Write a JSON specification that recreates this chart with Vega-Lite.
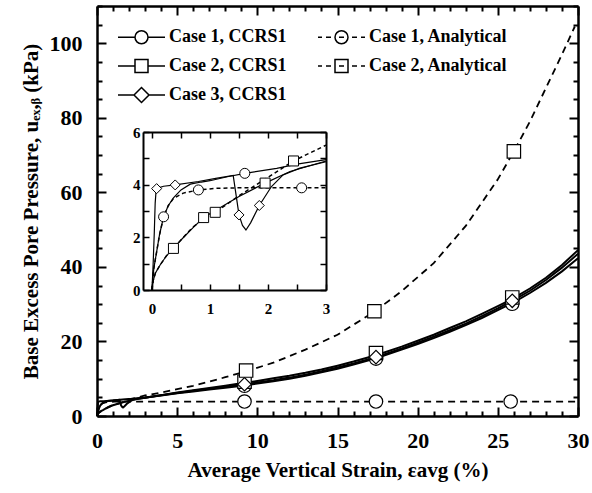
{
  "$schema": "https://vega.github.io/schema/vega-lite/v6.json",
  "width": 481,
  "height": 410,
  "autosize": "none",
  "padding": {"left": 97, "top": 6, "right": 14, "bottom": 77},
  "background": "white",
  "config": {
    "view": {"stroke": null},
    "font": "Liberation Serif",
    "axis": {
      "labelFont": "Liberation Serif",
      "labelFontWeight": "bold",
      "labelColor": "black",
      "titleFont": "Liberation Serif",
      "titleFontWeight": "bold",
      "titleColor": "black",
      "domainColor": "black",
      "tickColor": "black",
      "grid": false,
      "labelOverlap": false,
      "labelFlush": false
    },
    "legend": {
      "labelFont": "Liberation Serif",
      "labelFontWeight": "bold",
      "labelFontSize": 18,
      "labelColor": "black",
      "labelLimit": 300
    }
  },
  "datasets": {
    "curves": [
      {"s": "Case 1, CCRS1", "m": "CCRS1", "x": 0, "y": 0},
      {"s": "Case 1, CCRS1", "m": "CCRS1", "x": 0.03, "y": 0.8},
      {"s": "Case 1, CCRS1", "m": "CCRS1", "x": 0.08, "y": 1.45},
      {"s": "Case 1, CCRS1", "m": "CCRS1", "x": 0.13, "y": 2.1},
      {"s": "Case 1, CCRS1", "m": "CCRS1", "x": 0.2, "y": 2.78},
      {"s": "Case 1, CCRS1", "m": "CCRS1", "x": 0.28, "y": 3.2},
      {"s": "Case 1, CCRS1", "m": "CCRS1", "x": 0.37, "y": 3.5},
      {"s": "Case 1, CCRS1", "m": "CCRS1", "x": 0.5, "y": 3.8},
      {"s": "Case 1, CCRS1", "m": "CCRS1", "x": 0.66, "y": 4.02},
      {"s": "Case 1, CCRS1", "m": "CCRS1", "x": 0.85, "y": 4.1},
      {"s": "Case 1, CCRS1", "m": "CCRS1", "x": 1.0, "y": 4.15},
      {"s": "Case 1, CCRS1", "m": "CCRS1", "x": 1.3, "y": 4.3},
      {"s": "Case 1, CCRS1", "m": "CCRS1", "x": 1.6, "y": 4.43},
      {"s": "Case 1, CCRS1", "m": "CCRS1", "x": 2.15, "y": 4.62},
      {"s": "Case 1, CCRS1", "m": "CCRS1", "x": 2.5, "y": 4.78},
      {"s": "Case 1, CCRS1", "m": "CCRS1", "x": 3, "y": 4.95},
      {"s": "Case 1, CCRS1", "m": "CCRS1", "x": 4, "y": 5.5},
      {"s": "Case 1, CCRS1", "m": "CCRS1", "x": 5, "y": 6.1},
      {"s": "Case 1, CCRS1", "m": "CCRS1", "x": 6, "y": 6.6},
      {"s": "Case 1, CCRS1", "m": "CCRS1", "x": 7, "y": 7.1},
      {"s": "Case 1, CCRS1", "m": "CCRS1", "x": 8, "y": 7.6},
      {"s": "Case 1, CCRS1", "m": "CCRS1", "x": 9.2, "y": 8.2},
      {"s": "Case 1, CCRS1", "m": "CCRS1", "x": 10, "y": 8.7},
      {"s": "Case 1, CCRS1", "m": "CCRS1", "x": 11, "y": 9.3},
      {"s": "Case 1, CCRS1", "m": "CCRS1", "x": 12, "y": 10.0},
      {"s": "Case 1, CCRS1", "m": "CCRS1", "x": 13, "y": 10.8},
      {"s": "Case 1, CCRS1", "m": "CCRS1", "x": 14, "y": 11.7},
      {"s": "Case 1, CCRS1", "m": "CCRS1", "x": 15, "y": 12.7},
      {"s": "Case 1, CCRS1", "m": "CCRS1", "x": 16, "y": 13.8},
      {"s": "Case 1, CCRS1", "m": "CCRS1", "x": 17.4, "y": 15.5},
      {"s": "Case 1, CCRS1", "m": "CCRS1", "x": 19, "y": 17.8},
      {"s": "Case 1, CCRS1", "m": "CCRS1", "x": 20, "y": 19.3},
      {"s": "Case 1, CCRS1", "m": "CCRS1", "x": 21, "y": 20.9},
      {"s": "Case 1, CCRS1", "m": "CCRS1", "x": 22, "y": 22.6},
      {"s": "Case 1, CCRS1", "m": "CCRS1", "x": 23, "y": 24.4},
      {"s": "Case 1, CCRS1", "m": "CCRS1", "x": 24, "y": 26.3},
      {"s": "Case 1, CCRS1", "m": "CCRS1", "x": 25, "y": 28.4},
      {"s": "Case 1, CCRS1", "m": "CCRS1", "x": 25.9, "y": 30.3},
      {"s": "Case 1, CCRS1", "m": "CCRS1", "x": 27, "y": 33.0},
      {"s": "Case 1, CCRS1", "m": "CCRS1", "x": 28, "y": 35.7},
      {"s": "Case 1, CCRS1", "m": "CCRS1", "x": 29, "y": 38.8},
      {"s": "Case 1, CCRS1", "m": "CCRS1", "x": 30, "y": 42.3},

      {"s": "Case 2, CCRS1", "m": "CCRS1", "x": 0, "y": 0},
      {"s": "Case 2, CCRS1", "m": "CCRS1", "x": 0.02, "y": 0.35},
      {"s": "Case 2, CCRS1", "m": "CCRS1", "x": 0.06, "y": 0.65},
      {"s": "Case 2, CCRS1", "m": "CCRS1", "x": 0.14, "y": 0.95},
      {"s": "Case 2, CCRS1", "m": "CCRS1", "x": 0.25, "y": 1.3},
      {"s": "Case 2, CCRS1", "m": "CCRS1", "x": 0.37, "y": 1.58},
      {"s": "Case 2, CCRS1", "m": "CCRS1", "x": 0.5, "y": 1.9},
      {"s": "Case 2, CCRS1", "m": "CCRS1", "x": 0.7, "y": 2.35},
      {"s": "Case 2, CCRS1", "m": "CCRS1", "x": 0.89, "y": 2.75},
      {"s": "Case 2, CCRS1", "m": "CCRS1", "x": 1.1, "y": 3.03},
      {"s": "Case 2, CCRS1", "m": "CCRS1", "x": 1.5, "y": 3.55},
      {"s": "Case 2, CCRS1", "m": "CCRS1", "x": 1.95, "y": 4.06},
      {"s": "Case 2, CCRS1", "m": "CCRS1", "x": 2.38, "y": 4.5},
      {"s": "Case 2, CCRS1", "m": "CCRS1", "x": 3, "y": 4.9},
      {"s": "Case 2, CCRS1", "m": "CCRS1", "x": 4, "y": 5.6},
      {"s": "Case 2, CCRS1", "m": "CCRS1", "x": 5, "y": 6.3},
      {"s": "Case 2, CCRS1", "m": "CCRS1", "x": 6, "y": 6.9},
      {"s": "Case 2, CCRS1", "m": "CCRS1", "x": 7, "y": 7.5},
      {"s": "Case 2, CCRS1", "m": "CCRS1", "x": 8, "y": 8.1},
      {"s": "Case 2, CCRS1", "m": "CCRS1", "x": 9.2, "y": 8.9},
      {"s": "Case 2, CCRS1", "m": "CCRS1", "x": 10, "y": 9.4},
      {"s": "Case 2, CCRS1", "m": "CCRS1", "x": 11, "y": 10.1},
      {"s": "Case 2, CCRS1", "m": "CCRS1", "x": 12, "y": 10.8},
      {"s": "Case 2, CCRS1", "m": "CCRS1", "x": 13, "y": 11.6},
      {"s": "Case 2, CCRS1", "m": "CCRS1", "x": 14, "y": 12.5},
      {"s": "Case 2, CCRS1", "m": "CCRS1", "x": 15, "y": 13.5},
      {"s": "Case 2, CCRS1", "m": "CCRS1", "x": 16, "y": 14.6},
      {"s": "Case 2, CCRS1", "m": "CCRS1", "x": 17.4, "y": 16.3},
      {"s": "Case 2, CCRS1", "m": "CCRS1", "x": 19, "y": 18.6},
      {"s": "Case 2, CCRS1", "m": "CCRS1", "x": 20, "y": 20.2},
      {"s": "Case 2, CCRS1", "m": "CCRS1", "x": 21, "y": 21.8},
      {"s": "Case 2, CCRS1", "m": "CCRS1", "x": 22, "y": 23.6},
      {"s": "Case 2, CCRS1", "m": "CCRS1", "x": 23, "y": 25.4},
      {"s": "Case 2, CCRS1", "m": "CCRS1", "x": 24, "y": 27.4},
      {"s": "Case 2, CCRS1", "m": "CCRS1", "x": 25, "y": 29.5},
      {"s": "Case 2, CCRS1", "m": "CCRS1", "x": 25.9, "y": 31.4},
      {"s": "Case 2, CCRS1", "m": "CCRS1", "x": 27, "y": 34.2},
      {"s": "Case 2, CCRS1", "m": "CCRS1", "x": 28, "y": 37.1},
      {"s": "Case 2, CCRS1", "m": "CCRS1", "x": 29, "y": 40.5},
      {"s": "Case 2, CCRS1", "m": "CCRS1", "x": 30, "y": 44.5},

      {"s": "Case 3, CCRS1", "m": "CCRS1", "x": 0, "y": 0},
      {"s": "Case 3, CCRS1", "m": "CCRS1", "x": 0.02, "y": 1.0},
      {"s": "Case 3, CCRS1", "m": "CCRS1", "x": 0.04, "y": 2.2},
      {"s": "Case 3, CCRS1", "m": "CCRS1", "x": 0.055, "y": 3.3},
      {"s": "Case 3, CCRS1", "m": "CCRS1", "x": 0.07, "y": 3.75},
      {"s": "Case 3, CCRS1", "m": "CCRS1", "x": 0.1, "y": 3.87},
      {"s": "Case 3, CCRS1", "m": "CCRS1", "x": 0.2, "y": 3.94},
      {"s": "Case 3, CCRS1", "m": "CCRS1", "x": 0.4, "y": 3.99},
      {"s": "Case 3, CCRS1", "m": "CCRS1", "x": 0.8, "y": 4.12},
      {"s": "Case 3, CCRS1", "m": "CCRS1", "x": 1.1, "y": 4.24},
      {"s": "Case 3, CCRS1", "m": "CCRS1", "x": 1.4, "y": 4.35},
      {"s": "Case 3, CCRS1", "m": "CCRS1", "x": 1.45, "y": 3.6},
      {"s": "Case 3, CCRS1", "m": "CCRS1", "x": 1.5, "y": 2.85},
      {"s": "Case 3, CCRS1", "m": "CCRS1", "x": 1.56, "y": 2.45},
      {"s": "Case 3, CCRS1", "m": "CCRS1", "x": 1.62, "y": 2.28},
      {"s": "Case 3, CCRS1", "m": "CCRS1", "x": 1.7, "y": 2.55},
      {"s": "Case 3, CCRS1", "m": "CCRS1", "x": 1.85, "y": 3.21},
      {"s": "Case 3, CCRS1", "m": "CCRS1", "x": 2.06, "y": 3.93},
      {"s": "Case 3, CCRS1", "m": "CCRS1", "x": 2.26, "y": 4.37},
      {"s": "Case 3, CCRS1", "m": "CCRS1", "x": 2.55, "y": 4.63},
      {"s": "Case 3, CCRS1", "m": "CCRS1", "x": 3, "y": 4.87},
      {"s": "Case 3, CCRS1", "m": "CCRS1", "x": 4, "y": 5.55},
      {"s": "Case 3, CCRS1", "m": "CCRS1", "x": 5, "y": 6.2},
      {"s": "Case 3, CCRS1", "m": "CCRS1", "x": 6, "y": 6.75},
      {"s": "Case 3, CCRS1", "m": "CCRS1", "x": 7, "y": 7.3},
      {"s": "Case 3, CCRS1", "m": "CCRS1", "x": 8, "y": 7.85},
      {"s": "Case 3, CCRS1", "m": "CCRS1", "x": 9.2, "y": 8.5},
      {"s": "Case 3, CCRS1", "m": "CCRS1", "x": 10, "y": 9.0},
      {"s": "Case 3, CCRS1", "m": "CCRS1", "x": 11, "y": 9.6},
      {"s": "Case 3, CCRS1", "m": "CCRS1", "x": 12, "y": 10.3},
      {"s": "Case 3, CCRS1", "m": "CCRS1", "x": 13, "y": 11.1},
      {"s": "Case 3, CCRS1", "m": "CCRS1", "x": 14, "y": 12.0},
      {"s": "Case 3, CCRS1", "m": "CCRS1", "x": 15, "y": 13.0},
      {"s": "Case 3, CCRS1", "m": "CCRS1", "x": 16, "y": 14.1},
      {"s": "Case 3, CCRS1", "m": "CCRS1", "x": 17.4, "y": 15.8},
      {"s": "Case 3, CCRS1", "m": "CCRS1", "x": 19, "y": 18.1},
      {"s": "Case 3, CCRS1", "m": "CCRS1", "x": 20, "y": 19.7},
      {"s": "Case 3, CCRS1", "m": "CCRS1", "x": 21, "y": 21.3},
      {"s": "Case 3, CCRS1", "m": "CCRS1", "x": 22, "y": 23.0},
      {"s": "Case 3, CCRS1", "m": "CCRS1", "x": 23, "y": 24.8},
      {"s": "Case 3, CCRS1", "m": "CCRS1", "x": 24, "y": 26.8},
      {"s": "Case 3, CCRS1", "m": "CCRS1", "x": 25, "y": 28.9},
      {"s": "Case 3, CCRS1", "m": "CCRS1", "x": 25.9, "y": 30.9},
      {"s": "Case 3, CCRS1", "m": "CCRS1", "x": 27, "y": 33.6},
      {"s": "Case 3, CCRS1", "m": "CCRS1", "x": 28, "y": 36.5},
      {"s": "Case 3, CCRS1", "m": "CCRS1", "x": 29, "y": 39.8},
      {"s": "Case 3, CCRS1", "m": "CCRS1", "x": 30, "y": 43.5},

      {"s": "Case 1, Analytical", "m": "Analytical", "x": 0, "y": 0},
      {"s": "Case 1, Analytical", "m": "Analytical", "x": 0.03, "y": 0.8},
      {"s": "Case 1, Analytical", "m": "Analytical", "x": 0.08, "y": 1.45},
      {"s": "Case 1, Analytical", "m": "Analytical", "x": 0.13, "y": 2.1},
      {"s": "Case 1, Analytical", "m": "Analytical", "x": 0.2, "y": 2.78},
      {"s": "Case 1, Analytical", "m": "Analytical", "x": 0.28, "y": 3.2},
      {"s": "Case 1, Analytical", "m": "Analytical", "x": 0.37, "y": 3.48},
      {"s": "Case 1, Analytical", "m": "Analytical", "x": 0.54, "y": 3.68},
      {"s": "Case 1, Analytical", "m": "Analytical", "x": 0.8, "y": 3.8},
      {"s": "Case 1, Analytical", "m": "Analytical", "x": 1.1, "y": 3.86},
      {"s": "Case 1, Analytical", "m": "Analytical", "x": 1.5, "y": 3.88},
      {"s": "Case 1, Analytical", "m": "Analytical", "x": 3, "y": 3.88},
      {"s": "Case 1, Analytical", "m": "Analytical", "x": 10, "y": 3.88},
      {"s": "Case 1, Analytical", "m": "Analytical", "x": 20, "y": 3.88},
      {"s": "Case 1, Analytical", "m": "Analytical", "x": 30, "y": 3.88},

      {"s": "Case 2, Analytical", "m": "Analytical", "x": 0, "y": 0},
      {"s": "Case 2, Analytical", "m": "Analytical", "x": 0.02, "y": 0.35},
      {"s": "Case 2, Analytical", "m": "Analytical", "x": 0.06, "y": 0.65},
      {"s": "Case 2, Analytical", "m": "Analytical", "x": 0.14, "y": 0.95},
      {"s": "Case 2, Analytical", "m": "Analytical", "x": 0.25, "y": 1.3},
      {"s": "Case 2, Analytical", "m": "Analytical", "x": 0.37, "y": 1.58},
      {"s": "Case 2, Analytical", "m": "Analytical", "x": 0.5, "y": 1.9},
      {"s": "Case 2, Analytical", "m": "Analytical", "x": 0.7, "y": 2.38},
      {"s": "Case 2, Analytical", "m": "Analytical", "x": 0.9, "y": 2.72},
      {"s": "Case 2, Analytical", "m": "Analytical", "x": 1.09, "y": 2.95},
      {"s": "Case 2, Analytical", "m": "Analytical", "x": 1.5, "y": 3.58},
      {"s": "Case 2, Analytical", "m": "Analytical", "x": 2.0, "y": 4.28},
      {"s": "Case 2, Analytical", "m": "Analytical", "x": 2.44, "y": 4.9},
      {"s": "Case 2, Analytical", "m": "Analytical", "x": 3, "y": 5.5},
      {"s": "Case 2, Analytical", "m": "Analytical", "x": 4, "y": 6.3},
      {"s": "Case 2, Analytical", "m": "Analytical", "x": 5, "y": 7.2},
      {"s": "Case 2, Analytical", "m": "Analytical", "x": 6, "y": 8.1},
      {"s": "Case 2, Analytical", "m": "Analytical", "x": 7, "y": 9.2},
      {"s": "Case 2, Analytical", "m": "Analytical", "x": 8, "y": 10.4},
      {"s": "Case 2, Analytical", "m": "Analytical", "x": 9.3, "y": 12.0},
      {"s": "Case 2, Analytical", "m": "Analytical", "x": 11, "y": 14.3},
      {"s": "Case 2, Analytical", "m": "Analytical", "x": 13, "y": 17.8},
      {"s": "Case 2, Analytical", "m": "Analytical", "x": 15, "y": 21.8},
      {"s": "Case 2, Analytical", "m": "Analytical", "x": 17.3, "y": 28.0},
      {"s": "Case 2, Analytical", "m": "Analytical", "x": 19, "y": 33.5},
      {"s": "Case 2, Analytical", "m": "Analytical", "x": 21, "y": 41.0},
      {"s": "Case 2, Analytical", "m": "Analytical", "x": 23, "y": 51.0},
      {"s": "Case 2, Analytical", "m": "Analytical", "x": 25, "y": 63.5},
      {"s": "Case 2, Analytical", "m": "Analytical", "x": 26, "y": 71.0},
      {"s": "Case 2, Analytical", "m": "Analytical", "x": 27, "y": 79.0},
      {"s": "Case 2, Analytical", "m": "Analytical", "x": 28, "y": 88.0},
      {"s": "Case 2, Analytical", "m": "Analytical", "x": 29, "y": 97.0},
      {"s": "Case 2, Analytical", "m": "Analytical", "x": 29.8, "y": 104.5}
    ],
    "pts": [
      {"s": "Case 1, CCRS1", "x": 0.2, "y": 2.78},
      {"s": "Case 1, CCRS1", "x": 1.6, "y": 4.43},
      {"s": "Case 1, CCRS1", "x": 9.2, "y": 8.1},
      {"s": "Case 1, CCRS1", "x": 17.4, "y": 15.4},
      {"s": "Case 1, CCRS1", "x": 25.9, "y": 30.1},
      {"s": "Case 2, CCRS1", "x": 0.37, "y": 1.58},
      {"s": "Case 2, CCRS1", "x": 0.89, "y": 2.75},
      {"s": "Case 2, CCRS1", "x": 1.95, "y": 4.06},
      {"s": "Case 2, CCRS1", "x": 9.2, "y": 9.2},
      {"s": "Case 2, CCRS1", "x": 17.4, "y": 16.9},
      {"s": "Case 2, CCRS1", "x": 25.9, "y": 31.8},
      {"s": "Case 3, CCRS1", "x": 0.08, "y": 3.85},
      {"s": "Case 3, CCRS1", "x": 0.4, "y": 3.99},
      {"s": "Case 3, CCRS1", "x": 1.5, "y": 2.85},
      {"s": "Case 3, CCRS1", "x": 1.85, "y": 3.21},
      {"s": "Case 3, CCRS1", "x": 9.2, "y": 8.5},
      {"s": "Case 3, CCRS1", "x": 17.4, "y": 15.8},
      {"s": "Case 3, CCRS1", "x": 25.9, "y": 30.9},
      {"s": "Case 1, Analytical", "x": 0.8, "y": 3.8},
      {"s": "Case 1, Analytical", "x": 2.58, "y": 3.88},
      {"s": "Case 1, Analytical", "x": 9.2, "y": 3.88},
      {"s": "Case 1, Analytical", "x": 17.4, "y": 3.88},
      {"s": "Case 1, Analytical", "x": 25.8, "y": 3.88},
      {"s": "Case 2, Analytical", "x": 1.09, "y": 2.95},
      {"s": "Case 2, Analytical", "x": 2.44, "y": 4.9},
      {"s": "Case 2, Analytical", "x": 9.3, "y": 12.2},
      {"s": "Case 2, Analytical", "x": 17.3, "y": 28.1},
      {"s": "Case 2, Analytical", "x": 26.0, "y": 71.0}
    ]
  },
  "layer": [
    {
      "layer": [
        {
          "data": {"name": "curves"},
          "transform": [{"filter": "datum.m === 'Analytical'"}],
          "mark": {"type": "line", "color": "black", "strokeWidth": 1.8, "strokeDash": [7, 5]},
          "encoding": {
            "x": {"field": "x", "type": "quantitative",
              "scale": {"domain": [0, 30], "nice": false, "zero": false},
              "axis": {"orient": "bottom", "values": [0, 5, 10, 15, 20, 25, 30], "ticks": false, "domain": false,
                "labelFontSize": 22, "labelPadding": 14,
                "title": "Average Vertical Strain, εavg (%)", "titleFontSize": 21, "titlePadding": 8}},
            "y": {"field": "y", "type": "quantitative",
              "scale": {"domain": [0, 110], "nice": false, "zero": false},
              "axis": {"orient": "left", "values": [0, 20, 40, 60, 80, 100], "ticks": false, "domain": false,
                "labelFontSize": 22, "labelPadding": 15,
                "title": "Base Excess Pore Pressure, uₑₓ,ᵦ (kPa)", "titleFontSize": 21, "titlePadding": 8}},
            "detail": {"field": "s"}
          }
        },
        {
          "data": {"name": "curves"},
          "transform": [{"filter": "datum.m === 'CCRS1'"}],
          "mark": {"type": "line", "color": "black", "strokeWidth": 2},
          "encoding": {
            "x": {"field": "x", "type": "quantitative",
              "scale": {"domain": [0, 30], "nice": false, "zero": false},
              "axis": {"orient": "top", "offset": -410, "values": [0,1,2,3,4,5,6,7,8,9,10,11,12,13,14,15,16,17,18,19,20,21,22,23,24,25,26,27,28,29,30],
                "labels": false,
                "tickSize": {"condition": {"test": "datum.value % 5 === 0", "value": 9}, "value": 5},
                "tickWidth": 2, "domainWidth": 2.5, "title": null}},
            "y": {"field": "y", "type": "quantitative",
              "scale": {"domain": [0, 110], "nice": false, "zero": false},
              "axis": {"orient": "right", "offset": -481, "values": [0,5,10,15,20,25,30,35,40,45,50,55,60,65,70,75,80,85,90,95,100,105,110],
                "labels": false,
                "tickSize": {"condition": {"test": "datum.value % 20 === 0", "value": 9}, "value": 5},
                "tickWidth": 2, "domainWidth": 2.5, "title": null}},
            "detail": {"field": "s"}
          }
        },
        {
          "data": {"name": "pts"},
          "transform": [{"filter": "datum.x > 3"}],
          "mark": {"type": "point", "filled": false, "fill": "white", "stroke": "black", "strokeWidth": 1.2, "size": 180, "opacity": 1},
          "encoding": {
            "x": {"field": "x", "type": "quantitative", "scale": {"domain": [0, 30], "nice": false, "zero": false},
              "axis": {"orient": "bottom", "offset": -410, "values": [0,1,2,3,4,5,6,7,8,9,10,11,12,13,14,15,16,17,18,19,20,21,22,23,24,25,26,27,28,29,30],
                "labels": false,
                "tickSize": {"condition": {"test": "datum.value % 5 === 0", "value": 9}, "value": 5},
                "tickWidth": 2, "domainWidth": 2.5, "title": null}},
            "y": {"field": "y", "type": "quantitative", "scale": {"domain": [0, 110], "nice": false, "zero": false},
              "axis": {"orient": "left", "offset": -481, "values": [0,5,10,15,20,25,30,35,40,45,50,55,60,65,70,75,80,85,90,95,100,105,110],
                "labels": false,
                "tickSize": {"condition": {"test": "datum.value % 20 === 0", "value": 9}, "value": 5},
                "tickWidth": 2, "domainWidth": 2.5, "title": null}},
            "shape": {"field": "s", "type": "nominal",
              "scale": {"domain": ["Case 1, CCRS1", "Case 2, CCRS1", "Case 3, CCRS1", "Case 1, Analytical", "Case 2, Analytical"],
                        "range": ["circle", "square", "diamond", "circle", "square"]},
              "legend": null}
          }
        },
        {
          "data": {"name": "pts"},
          "transform": [{"filter": "datum.x < -100"}],
          "mark": {"type": "point", "filled": false, "fill": "white", "stroke": "black", "strokeWidth": 1.5, "size": 400, "opacity": 1},
          "encoding": {
            "shape": {"field": "s", "type": "nominal",
              "scale": {"domain": ["Case 1, CCRS1", "Case 2, CCRS1", "Case 3, CCRS1", "Case 1, Analytical", "Case 2, Analytical"],
                        "range": [
                          "M-1.1,0L0.6,0M1.9,0L3.6,0M0.6,0A0.65,0.65 0 1,1 1.9,0A0.65,0.65 0 1,1 0.6,0Z",
                          "M-1.1,0L0.6,0M1.9,0L3.6,0M0.6,-0.65L1.9,-0.65L1.9,0.65L0.6,0.65Z",
                          "M-1.1,0L0.5,0M2.0,0L3.6,0M0.5,0L1.25,-0.75L2.0,0L1.25,0.75Z",
                          "M-1.1,0L-0.7,0M-0.3,0L0.2,0M1.0,0L1.5,0M2.3,0L2.8,0M3.2,0L3.6,0M0.6,0A0.65,0.65 0 1,1 1.9,0A0.65,0.65 0 1,1 0.6,0Z",
                          "M-1.1,0L-0.7,0M-0.3,0L0.2,0M1.0,0L1.5,0M2.3,0L2.8,0M3.2,0L3.6,0M0.6,-0.65L1.9,-0.65L1.9,0.65L0.6,0.65Z"
                        ]},
              "legend": {
                "title": null, "orient": "none", "legendX": 21, "legendY": 20, "direction": "vertical", "columns": 2, "padding": 0,
                "symbolSize": 400, "labelOffset": 29, "rowPadding": 8, "columnPadding": 28
              }
            }
          }
        }
      ],
      "resolve": {"axis": {"x": "independent", "y": "independent"}, "scale": {"shape": "independent"}}
    },
    {
      "layer": [
        {
          "data": {"name": "curves"},
          "transform": [{"filter": "datum.m === 'CCRS1' && datum.x <= 3.001"}],
          "mark": {"type": "line", "color": "black", "strokeWidth": 1.2},
          "encoding": {
            "x": {"field": "x", "type": "quantitative",
              "scale": {"domain": [-0.155, 3], "range": [46, 229], "nice": false, "zero": false},
              "axis": {"orient": "bottom", "offset": -126, "values": [0, 1, 2, 3], "format": "d",
                "ticks": false, "domain": false, "labelFontSize": 15, "labelPadding": 11, "title": null}},
            "y": {"field": "y", "type": "quantitative",
              "scale": {"domain": [0, 6], "range": [284, 126], "nice": false, "zero": false},
              "axis": {"orient": "left", "offset": -46, "values": [0, 2, 4, 6], "format": "d",
                "ticks": false, "domain": false, "labelFontSize": 15, "labelPadding": 3, "title": null}},
            "detail": {"field": "s"}
          }
        },
        {
          "data": {"name": "curves"},
          "transform": [{"filter": "datum.m === 'Analytical' && datum.x <= 3.001"}],
          "mark": {"type": "line", "color": "black", "strokeWidth": 1.5, "strokeDash": [4, 3]},
          "encoding": {
            "x": {"field": "x", "type": "quantitative",
              "scale": {"domain": [-0.155, 3], "range": [46, 229], "nice": false, "zero": false},
              "axis": {"orient": "top", "offset": -284, "values": [0, 0.5, 1, 1.5, 2, 2.5, 3],
                "labels": false, "tickSize": 6, "tickWidth": 1.5, "domainWidth": 2, "title": null}},
            "y": {"field": "y", "type": "quantitative",
              "scale": {"domain": [0, 6], "range": [284, 126], "nice": false, "zero": false},
              "axis": {"orient": "right", "offset": -435, "values": [0, 1, 2, 3, 4, 5, 6],
                "labels": false, "tickSize": 6, "tickWidth": 1.5, "domainWidth": 2, "title": null}},
            "detail": {"field": "s"}
          }
        },
        {
          "data": {"name": "pts"},
          "transform": [{"filter": "datum.x <= 3"}],
          "mark": {"type": "point", "filled": false, "fill": "white", "stroke": "black", "strokeWidth": 1, "size": 100, "opacity": 1},
          "encoding": {
            "x": {"field": "x", "type": "quantitative", "scale": {"domain": [-0.155, 3], "range": [46, 229], "nice": false, "zero": false},
              "axis": {"orient": "bottom", "offset": -284, "values": [0, 0.5, 1, 1.5, 2, 2.5, 3],
                "labels": false, "tickSize": 6, "tickWidth": 1.5, "domainWidth": 2, "title": null}},
            "y": {"field": "y", "type": "quantitative", "scale": {"domain": [0, 6], "range": [284, 126], "nice": false, "zero": false},
              "axis": {"orient": "left", "offset": -229, "values": [0, 1, 2, 3, 4, 5, 6],
                "labels": false, "tickSize": 6, "tickWidth": 1.5, "domainWidth": 2, "title": null}},
            "shape": {"field": "s", "type": "nominal",
              "scale": {"domain": ["Case 1, CCRS1", "Case 2, CCRS1", "Case 3, CCRS1", "Case 1, Analytical", "Case 2, Analytical"],
                        "range": ["circle", "square", "diamond", "circle", "square"]},
              "legend": null}
          }
        }
      ],
      "resolve": {"axis": {"x": "independent", "y": "independent"}}
    }
  ],
  "resolve": {"scale": {"x": "independent", "y": "independent", "shape": "independent"}}
}
